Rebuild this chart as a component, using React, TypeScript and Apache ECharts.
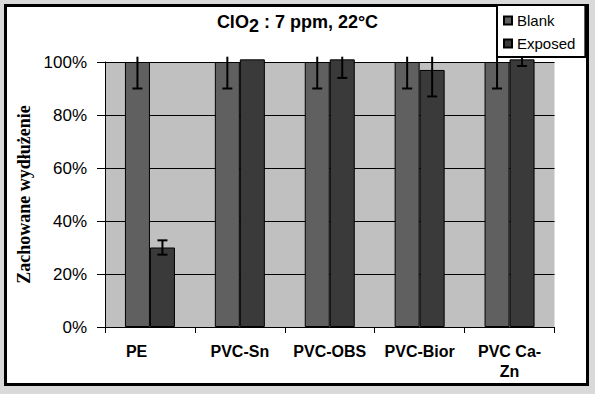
import React, { useEffect, useRef } from "react";
import * as echarts from "echarts";

const categories = ["PE", "PVC-Sn", "PVC-OBS", "PVC-Bior", "PVC Ca-Zn"];
const blankValues = [100, 100, 100, 100, 100];
const exposedValues = [30, 101, 101, 97, 101];
const blankErrors = [10, 10, 10, 10, 10];
const exposedErrors = [2.7, 0, 7, 10, 2.5];
const seriesNames = ["Blank", "Exposed"];

const SANS = '"Liberation Sans", Arial, sans-serif';
const SERIF = '"Liberation Serif", "Times New Roman", serif';
const DISPLAY_MAX = 102;
const BAR_W = 25;

function errSeries(values: number[], errors: number[], side: number) {
  return {
    type: "custom",
    z: 5,
    clip: false,
    silent: true,
    data: values.map((v, i) => [i, v, errors[i]]),
    renderItem: (params: any, api: any) => {
      const idx = api.value(0);
      const v = api.value(1);
      const e = api.value(2);
      if (!e) return null;
      const hiVal = v + e;
      const clipped = hiVal > DISPLAY_MAX;
      const lo = api.coord([idx, v - e]);
      const hi = api.coord([idx, Math.min(hiVal, DISPLAY_MAX)]);
      const x = lo[0] + side * (BAR_W / 2);
      const cap = 5;
      const st = { stroke: "#000", lineWidth: 2 };
      const children: any[] = [
        { type: "line", shape: { x1: x, y1: lo[1], x2: x, y2: hi[1] }, style: st },
        { type: "line", shape: { x1: x - cap, y1: lo[1], x2: x + cap, y2: lo[1] }, style: st },
      ];
      if (!clipped) {
        children.push({ type: "line", shape: { x1: x - cap, y1: hi[1], x2: x + cap, y2: hi[1] }, style: st });
      }
      return { type: "group", children };
    },
  };
}

export default function App() {
  const ref = useRef<HTMLDivElement>(null);
  useEffect(() => {
    if (!ref.current) return;
    const chart = echarts.init(ref.current, undefined, { renderer: "svg" });
    chart.setOption({
      animation: false,
      backgroundColor: "#d9d9d9",
      graphic: [
        {
          type: "rect",
          z: -10,
          shape: { x: 5.5, y: 5.5, width: 582, height: 379 },
          style: { fill: "#fff", stroke: "#000", lineWidth: 3 },
        },
      ],
      title: {
        left: "center",
        top: 9,
        padding: 0,
        text: "{a|ClO}{s|2}{a| : 7 ppm, 22°C}",
        textStyle: {
          rich: {
            a: { fontSize: 18, fontWeight: "bold", fontFamily: SANS, color: "#000", lineHeight: 26, verticalAlign: "middle" },
            s: { fontSize: 18, fontWeight: "bold", fontFamily: SANS, color: "#000", lineHeight: 26, verticalAlign: "bottom" },
          },
        },
      },
      legend: {
        data: seriesNames,
        orient: "vertical",
        left: 497,
        top: 5,
        padding: [7, 10, 5, 6],
        backgroundColor: "#fff",
        borderColor: "#000",
        borderWidth: 2,
        borderRadius: 0,
        itemWidth: 8,
        itemHeight: 8,
        itemGap: 6,
        itemTextGap: 8,
        icon: "rect",
        textStyle: { fontSize: 15, fontFamily: SANS, color: "#000", lineHeight: 17 },
        z: 10,
      },
      grid: {
        left: 105,
        right: 40.5,
        top: 62,
        bottom: 67,
        show: true,
        backgroundColor: "#c0c0c0",
        borderWidth: 0,
      },
      xAxis: {
        type: "category",
        data: categories,
        axisLine: { lineStyle: { color: "#000", width: 1 } },
        axisTick: { show: true, length: 6, lineStyle: { color: "#000", width: 1 } },
        axisLabel: {
          interval: 0,
          margin: 14,
          fontSize: 16,
          fontWeight: "bold",
          fontFamily: SANS,
          color: "#000",
          lineHeight: 20,
          formatter: (v: string) => (v === "PE" ? "PE      " : v.replace("Ca-", "Ca-\n")),
        },
      },
      yAxis: {
        type: "value",
        min: 0,
        max: 100,
        interval: 20,
        name: "Zachowane wydłużenie",
        nameLocation: "middle",
        nameRotate: 90,
        nameGap: 69,
        nameTextStyle: { fontSize: 18, fontWeight: "bold", fontFamily: SERIF, color: "#000" },
        axisLine: { show: true, lineStyle: { color: "#000", width: 1 } },
        axisTick: { show: true, length: 8, lineStyle: { color: "#000", width: 1 } },
        splitLine: { show: true, lineStyle: { color: "#000", width: 1 } },
        axisLabel: {
          margin: 18,
          fontSize: 17,
          fontFamily: SANS,
          color: "#000",
          formatter: "{value}%",
        },
      },
      series: [
        {
          name: seriesNames[0],
          type: "bar",
          data: blankValues,
          barWidth: BAR_W,
          barGap: "0%",
          clip: false,
          itemStyle: { color: "#606060", borderColor: "#000", borderWidth: 1 },
        },
        {
          name: seriesNames[1],
          type: "bar",
          data: exposedValues,
          barWidth: BAR_W,
          barGap: "0%",
          clip: false,
          itemStyle: { color: "#3a3a3a", borderColor: "#000", borderWidth: 1 },
        },
        errSeries(blankValues, blankErrors, -1),
        errSeries(exposedValues, exposedErrors, 1),
      ],
    });
    return () => chart.dispose();
  }, []);
  return (
    <div
      ref={ref}
      style={{ position: "absolute", left: 0, top: 0, width: 595, height: 394 }}
    />
  );
}
